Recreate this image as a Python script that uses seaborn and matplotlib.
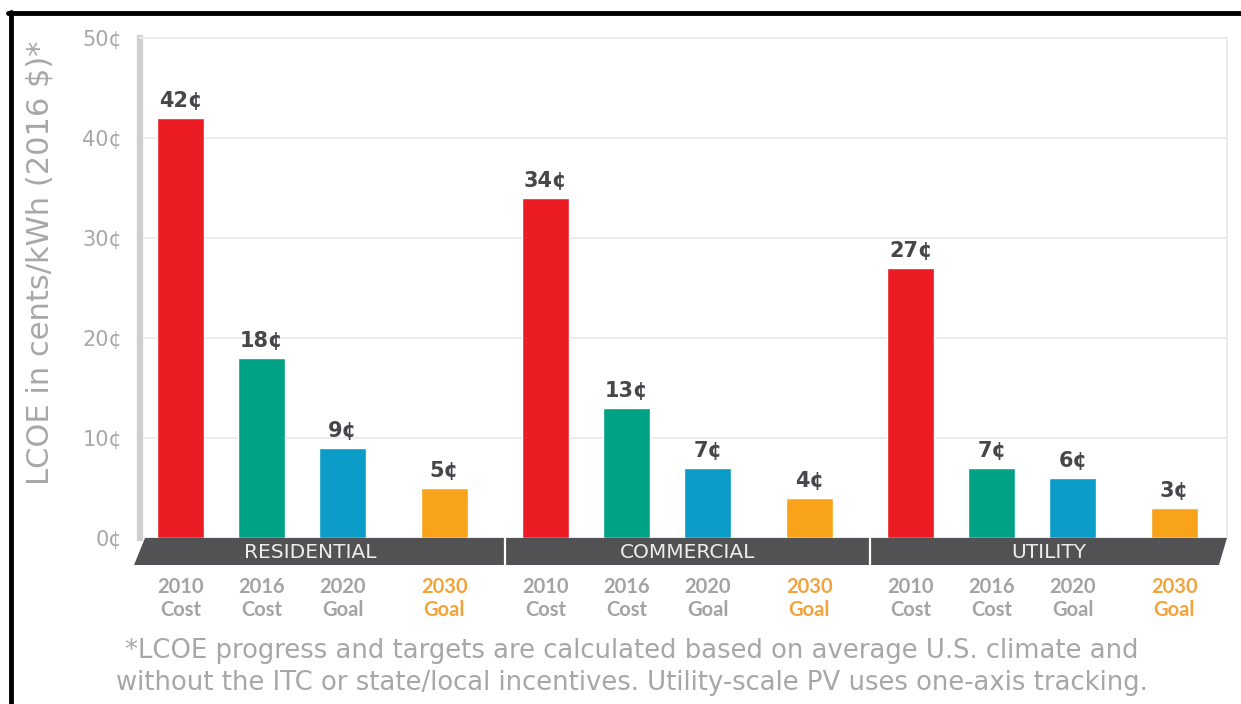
import matplotlib
matplotlib.use("Agg")
import matplotlib.pyplot as plt
import matplotlib.transforms as mtransforms
from matplotlib.patches import Polygon
from matplotlib.lines import Line2D
import pandas as pd
import seaborn as sns

# --- data -------------------------------------------------------------
sectors = ["RESIDENTIAL", "COMMERCIAL", "UTILITY"]
milestones = ["2010\nCost", "2016\nCost", "2020\nGoal", "2030\nGoal"]
residential = [42, 18, 9, 5]
commercial = [34, 13, 7, 4]
utility = [27, 7, 6, 3]
y_ticks = [0, 10, 20, 30, 40, 50]
footnote = [
    "*LCOE progress and targets are calculated based on average U.S. climate and",
    "without the ITC or state/local incentives. Utility-scale PV uses one-axis tracking.",
]

# --- layout -------------------------------------------------------------
slot_offsets = [0.0, 1.0, 2.0, 3.25]   # bar slots within a sector
sector_step = 4.5                       # distance between sector starts

colors = ["#EC1C24", "#00A286", "#0B9CC8", "#F9A31A"]
light_text = "#a7a7a9"
orange_text = "#F2A33A"
band_color = "#525254"
WIDE = ["DejaVu Sans"]
ROUND = ["Lato", "DejaVu Sans"]

rows = []
for s, (name, vals) in enumerate(zip(sectors, [residential, commercial, utility])):
    for m, v in enumerate(vals):
        rows.append({"sector": name, "milestone": milestones[m],
                     "pos": s * sector_step + slot_offsets[m], "value": v})
df = pd.DataFrame(rows)

sns.set_theme(style="white")
plt.rcParams["font.family"] = ROUND

W, H = 1241, 704
fig = plt.figure(figsize=(W / 100, H / 100), dpi=100)
fig.patch.set_facecolor("white")
ax = fig.add_axes([140 / W, (H - 538) / H, (1227 - 140) / W, 500 / H])

sns.barplot(data=df, x="pos", y="value", hue="milestone", hue_order=milestones,
            palette=colors, native_scale=True, dodge=False, width=0.58,
            legend=False, ax=ax, zorder=3, saturation=1)

x_lo, x_hi = -0.5, 12.9
ax.set_xlim(x_lo, x_hi)
ax.set_ylim(0, 50)

# value labels above each bar
for cont in ax.containers:
    ax.bar_label(cont, fmt="{:g}¢", padding=5, fontsize=15, fontweight="bold",
                 color="#47474b", family=WIDE)

# y axis
ax.set_yticks(y_ticks)
ax.set_yticklabels([f"{v}¢" for v in y_ticks], family=WIDE)
ax.tick_params(axis="y", length=0, pad=13, labelsize=15, labelcolor=light_text)
ax.yaxis.grid(True, color="#ececec", lw=1.5, zorder=0)
ax.set_axisbelow(True)

# x axis milestone labels
ax.set_xticks(df["pos"])
ax.set_xticklabels(df["milestone"])
ax.tick_params(axis="x", length=0, pad=28, labelsize=14.5)
for lab in ax.get_xticklabels():
    lab.set_linespacing(1.2)
    lab.set_fontweight("bold")
    if lab.get_text().startswith("2030"):
        lab.set_color(orange_text)
    else:
        lab.set_color("#a3a3a5")
ax.set_xlabel("")
ax.set_ylabel("")

for side in ["top", "right"]:
    ax.spines[side].set_color("#ececec")
    ax.spines[side].set_linewidth(1.5)
ax.spines["bottom"].set_visible(False)
ax.spines["left"].set_color("#cfcfd0")
ax.spines["left"].set_linewidth(4.5)

# dark sector band under the baseline
blend = mtransforms.blended_transform_factory(ax.transAxes, ax.transData)
band = Polygon([(0.0046, 0), (1.0, 0), (0.9926, -2.7), (-0.0055, -2.7)],
               closed=True, transform=blend, facecolor=band_color,
               edgecolor="none", clip_on=False, zorder=4)
ax.add_patch(band)

dividers = [s * sector_step - 0.5 for s in range(1, len(sectors))]
for d in dividers:
    ax.plot([d, d], [0, -2.7], color="white", lw=1.6, clip_on=False, zorder=5)

edges = [x_lo] + dividers + [x_hi]
for i, name in enumerate(sectors):
    cx = (edges[i] + edges[i + 1]) / 2
    if i == 0:
        cx -= 0.15
    ax.text(cx, -1.4, name, ha="center", va="center", fontsize=14.5,
            color="#ededed", zorder=6, clip_on=False, family=WIDE)

# y label
fig.text(40 / W, (H - 263) / H, "LCOE in cents/kWh (2016 $)*", rotation=90,
         ha="center", va="center", fontsize=22, color=light_text, family=WIDE)

# footnote
for i, line in enumerate(footnote):
    fig.text(632 / W, (H - 651 - 32 * i) / H, line, ha="center", va="center",
             fontsize=18.6, color=light_text, family=WIDE)

# frame lines along the top and left edges
fig.add_artist(Line2D([8 / W, 1.0], [(H - 13) / H, (H - 13) / H],
                      transform=fig.transFigure, color="black", lw=3.5))
fig.add_artist(Line2D([10.5 / W, 10.5 / W], [0, (H - 11.5) / H],
                      transform=fig.transFigure, color="black", lw=3.5))

fig.savefig("out.png", dpi=100, facecolor="white")
